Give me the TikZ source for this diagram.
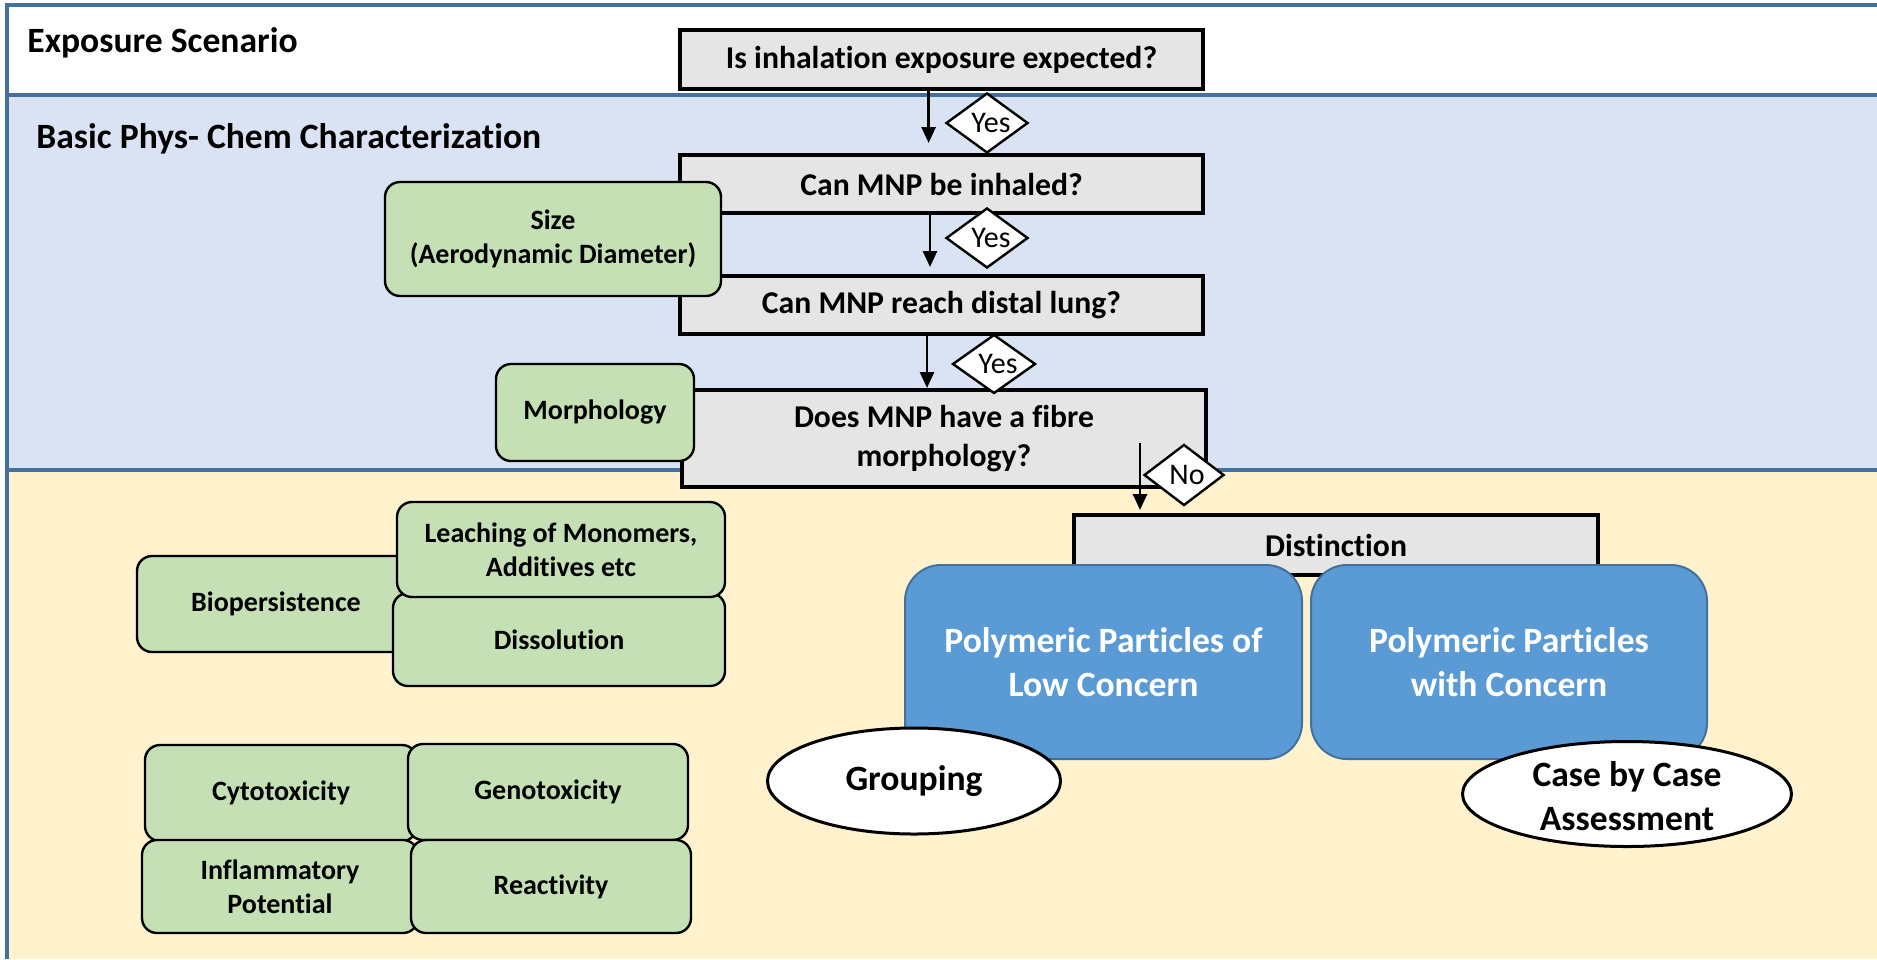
\documentclass[tikz,border=0pt]{standalone}
\usepackage{fontspec}
\setmainfont{Carlito}[Ligatures=NoCommon]
\usetikzlibrary{shapes.geometric,arrows.meta}
\definecolor{frameblue}{HTML}{41719C}
\definecolor{bandblue}{HTML}{DAE3F3}
\definecolor{bandyellow}{HTML}{FFF2CC}
\definecolor{graybox}{HTML}{E5E5E5}
\definecolor{greenbox}{HTML}{C5E0B4}
\definecolor{bluebox}{HTML}{5B9BD5}
\tikzset{
  frameline/.style={draw=frameblue, line width=1.8pt},
  qbox/.style={draw=black, line width=1.75pt, fill=graybox, inner sep=0pt, align=center,
    font=\bfseries\fontsize{15.85}{19.3}\selectfont},
  grnbox/.style={draw=black, line width=1.2pt, fill=greenbox, rounded corners=7.5pt, inner sep=0pt,
    align=center, font=\bfseries\fontsize{14}{17}\selectfont},
  blubox/.style={draw=frameblue, line width=1pt, fill=bluebox, rounded corners=18pt, inner sep=0pt,
    align=center, text=white, font=\bfseries\fontsize{17.8}{21.7}\selectfont},
  ellbox/.style={ellipse, draw=black, line width=1.5pt, fill=white, inner sep=0pt},
  elltext/.style={align=center, inner sep=0pt, font=\bfseries\fontsize{17.8}{21.7}\selectfont},
  diabox/.style={diamond, draw=black, line width=1.2pt, fill=white, inner sep=0pt},
  diatext/.style={inner sep=0pt, font=\fontsize{15}{18}\selectfont},
  title/.style={inner sep=0pt, anchor=base west, font=\bfseries\fontsize{17.8}{21.7}\selectfont},
  arr/.style={line width=1.3pt, -{Triangle[length=8pt,width=7pt]}}
}
\begin{document}
\begin{tikzpicture}[x=0.5pt,y=-0.5pt]
\useasboundingbox (0,0) rectangle (1877,959);
\fill[white] (0,0) rectangle (1877,959);
\fill[bandblue] (7,95) rectangle (1877,470);
\fill[bandyellow] (7,470) rectangle (1877,959);
\draw[frameline] (1877,5) -- (7,5) -- (7,959);
\draw[frameline] (7,95) -- (1877,95);
\draw[frameline] (7,470) -- (1877,470);

\node[title] (t1) at (27,52) {Exposure Scenario};
\node[title] (t2) at (36,148) {Basic Phys- Chem Characterization};

% question boxes
\node[qbox, minimum width=261.5pt, minimum height=29.5pt] (q1) at (941.5,59.5) {Is inhalation exposure expected?};
\node[qbox, minimum width=261.5pt, minimum height=29pt] (q2) at (941.5,184) {Can MNP be inhaled?};
\node[qbox, minimum width=261.5pt, minimum height=29pt] (q3) at (941.5,305) {Can MNP reach distal lung?};
\node[qbox, minimum width=262pt, minimum height=48.5pt] (q4) at (944,438.5) {Does MNP have a fibre\\morphology?};

% side boxes
\node[grnbox, minimum width=168pt, minimum height=57pt] (size) at (553,239) {Size\\(Aerodynamic Diameter)};
\node[grnbox, minimum width=99pt, minimum height=48.5pt] (morph) at (595,412.5) {Morphology};

% arrows
\coordinate (e1) at (928.6,143);
\coordinate (e2) at (930,267);
\coordinate (e3) at (927,388);
\coordinate (s4) at (1140,443);
\coordinate (e4) at (1140,510);
\draw[arr] (q1.south -| e1) -- (e1);
\draw[arr] (q2.south -| e2) -- (e2);
\draw[arr] (q3.south -| e3) -- (e3);

% distinction
\node[qbox, minimum width=262pt, minimum height=30pt] (dist) at (1336,545) {Distinction};
\draw[arr] (s4) -- (e4);

% decision diamonds
\node[diabox, minimum width=41pt, minimum height=30pt] (y1) at (987,123) {};
\node[diatext] (y1t) at (991,123) {Yes};
\node[diabox, minimum width=41pt, minimum height=30pt] (y2) at (987,238) {};
\node[diatext] (y2t) at (991,238) {Yes};
\node[diabox, minimum width=41.5pt, minimum height=29.5pt] (y3) at (994,364) {};
\node[diatext] (y3t) at (998,364) {Yes};
\node[diabox, minimum width=40pt, minimum height=30.5pt] (n1) at (1184,475) {};
\node[diatext] (n1t) at (1187,475) {No};

% outcome boxes
\node[blubox, minimum width=198.5pt, minimum height=97pt] (low) at (1103.5,662) {Polymeric Particles of\\Low Concern};
\node[blubox, minimum width=198pt, minimum height=97pt] (conc) at (1509,662) {Polymeric Particles\\with Concern};
\node[ellbox, minimum width=146.5pt, minimum height=53pt] (grp) at (914,781) {};
\node[elltext] (grpt) at (914,781) {Grouping};
\node[ellbox, minimum width=164.5pt, minimum height=52.5pt] (cbc) at (1627,794) {};
\node[elltext] (cbct) at (1627,796) {Case by Case\\Assessment};

% biological endpoints
\node[grnbox, minimum width=139pt, minimum height=48pt] (bio) at (276,604) {Biopersistence};
\node[grnbox, minimum width=166pt, minimum height=46.5pt] (diss) at (559,639.5) {Dissolution};
\node[grnbox, minimum width=164pt, minimum height=47.5pt] (leach) at (561,549.5) {Leaching of Monomers,\\Additives etc};

\node[grnbox, minimum width=136pt, minimum height=48pt] (cyto) at (281,793) {Cytotoxicity};
\node[grnbox, minimum width=138pt, minimum height=46.5pt] (infl) at (280,886.5) {Inflammatory\\Potential};
\node[grnbox, minimum width=140pt, minimum height=48pt] (geno) at (548,792) {Genotoxicity};
\node[grnbox, minimum width=140pt, minimum height=46.5pt] (react) at (551,886.5) {Reactivity};
\end{tikzpicture}
\end{document}
